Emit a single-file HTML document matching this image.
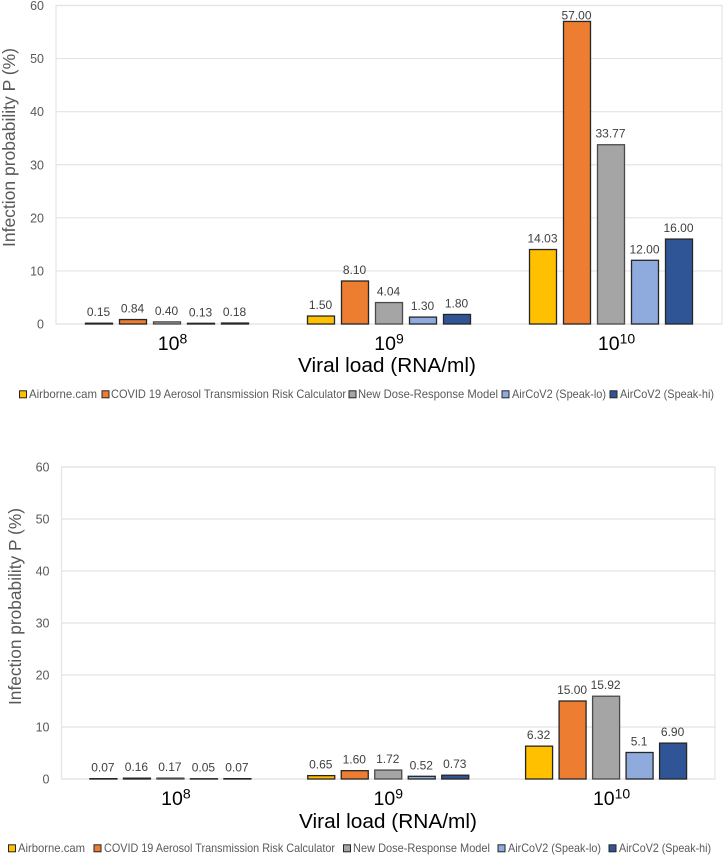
<!DOCTYPE html>
<html>
<head>
<meta charset="utf-8">
<title>Infection probability charts</title>
<style>
html,body{margin:0;padding:0;background:#fff;}
svg{display:block;font-family:"Liberation Sans",sans-serif;}
</style>
</head>
<body>
<svg id="figure" width="724" height="856" viewBox="0 0 724 856" xmlns="http://www.w3.org/2000/svg">
  <g id="panel-top"></g>
  <g id="panel-bottom"></g>

  <g font-size="12" fill="#595959">
    <rect x="19.5" y="390.8" width="7" height="7" fill="#FFC000" stroke="#262626"/>
    <text x="29" y="398" textLength="68" lengthAdjust="spacingAndGlyphs">Airborne.cam</text>
    <rect x="102" y="390.8" width="7" height="7" fill="#ED7D31" stroke="#262626"/>
    <text x="111" y="398" textLength="235" lengthAdjust="spacingAndGlyphs">COVID 19 Aerosol Transmission Risk Calculator</text>
    <rect x="349" y="390.8" width="7" height="7" fill="#A5A5A5" stroke="#262626"/>
    <text x="358" y="398" textLength="140" lengthAdjust="spacingAndGlyphs">New Dose-Response Model</text>
    <rect x="502" y="390.8" width="7" height="7" fill="#8FAADC" stroke="#262626"/>
    <text x="512" y="398" textLength="94" lengthAdjust="spacingAndGlyphs">AirCoV2 (Speak-lo)</text>
    <rect x="610" y="390.8" width="7" height="7" fill="#2F5597" stroke="#262626"/>
    <text x="620" y="398" textLength="94" lengthAdjust="spacingAndGlyphs">AirCoV2 (Speak-hi)</text>
  </g>

  <g font-size="12" fill="#595959">
    <rect x="8.5" y="844.8" width="7" height="7" fill="#FFC000" stroke="#262626"/>
    <text x="18" y="852" textLength="67" lengthAdjust="spacingAndGlyphs">Airborne.cam</text>
    <rect x="94" y="844.8" width="7" height="7" fill="#ED7D31" stroke="#262626"/>
    <text x="104" y="852" textLength="231" lengthAdjust="spacingAndGlyphs">COVID 19 Aerosol Transmission Risk Calculator</text>
    <rect x="343.5" y="844.8" width="7" height="7" fill="#A5A5A5" stroke="#262626"/>
    <text x="353" y="852" textLength="137" lengthAdjust="spacingAndGlyphs">New Dose-Response Model</text>
    <rect x="498" y="844.8" width="7" height="7" fill="#8FAADC" stroke="#262626"/>
    <text x="508" y="852" textLength="93" lengthAdjust="spacingAndGlyphs">AirCoV2 (Speak-lo)</text>
    <rect x="609" y="844.8" width="7" height="7" fill="#2F5597" stroke="#262626"/>
    <text x="619" y="852" textLength="92" lengthAdjust="spacingAndGlyphs">AirCoV2 (Speak-hi)</text>
  </g>
</svg>

<script>
const categoryExponents = ['8', '9', '10'];
const yTicks = [0, 10, 20, 30, 40, 50, 60];
const seriesNames = ['airborne', 'covid-calculator', 'dose-response', 'speak-lo', 'speak-hi'];
const seriesColors = ['#FFC000', '#ED7D31', '#A5A5A5', '#8FAADC', '#2F5597'];

const topAirborne = [0.15, 1.50, 14.03];
const topCovid = [0.84, 8.10, 57.00];
const topDose = [0.40, 4.04, 33.77];
const topLo = [0.13, 1.30, 12.00];
const topHi = [0.18, 1.80, 16.00];
const topLabels = [
  ['0.15', '1.50', '14.03'],
  ['0.84', '8.10', '57.00'],
  ['0.40', '4.04', '33.77'],
  ['0.13', '1.30', '12.00'],
  ['0.18', '1.80', '16.00']
];

const bottomAirborne = [0.07, 0.65, 6.32];
const bottomCovid = [0.16, 1.60, 15.00];
const bottomDose = [0.17, 1.72, 15.92];
const bottomLo = [0.05, 0.52, 5.1];
const bottomHi = [0.07, 0.73, 6.90];
const bottomLabels = [
  ['0.07', '0.65', '6.32'],
  ['0.16', '1.60', '15.00'],
  ['0.17', '1.72', '15.92'],
  ['0.05', '0.52', '5.1'],
  ['0.07', '0.73', '6.90']
];

const NS = 'http://www.w3.org/2000/svg';
function make(parent, tag, attrs, text) {
  const el = document.createElementNS(NS, tag);
  for (const k in attrs) el.setAttribute(k, attrs[k]);
  if (text !== undefined) el.textContent = text;
  parent.appendChild(el);
  return el;
}

function drawPanel(root, series, labels, cfg) {
  const yScale = v => cfg.y0 - (v / 60) * (cfg.y0 - cfg.y60);
  const groupWidth = (cfg.right - cfg.left) / categoryExponents.length;
  const groupCenter = i => cfg.left + groupWidth * (i + 0.5);
  const barCenter = (g, s) => groupCenter(g) + (s - 2) * cfg.pitch;

  yTicks.forEach(t => {
    const line = make(root, 'line', {x1: cfg.left, x2: cfg.right, y1: yScale(t), y2: yScale(t), stroke: '#E4E4E4', 'stroke-width': 1.2});
    
    
    const label = make(root, 'text', {x: cfg.left - 12, y: yScale(t) + 4.5, 'text-anchor': 'end', 'font-size': 12.5, fill: '#595959'}, String(t));
    
    
  });

  const frame = make(root, 'rect', {x: cfg.left, y: yScale(60), width: cfg.right - cfg.left, height: cfg.y0 - yScale(60), fill: 'none', stroke: '#E4E4E4', 'stroke-width': 1.2});
  
  

  series.forEach((values, s) => {
    values.forEach((v, g) => {
      const top = yScale(v);
      const bar = make(root, 'rect', {
        x: barCenter(g, s) - cfg.barWidth / 2,
        y: top,
        width: cfg.barWidth,
        height: Math.max(cfg.y0 - top, 0.1),
        fill: seriesColors[s],
        stroke: s === 2 ? '#4A4A4A' : '#262626',
        'stroke-width': 1.3
      });
      
      
      const valueLabel = make(root, 'text', {
        x: barCenter(g, s) - 0.5,
        y: Math.max(top - 7, cfg.labelMinY),
        'text-anchor': 'middle',
        'font-size': 12,
        fill: '#404040'
      }, labels[s][g]);
      
      
    });
  });

  categoryExponents.forEach((exp, g) => {
    const cat = make(root, 'text', {x: groupCenter(g) + cfg.catNudge[g], y: cfg.catBaseline, 'text-anchor': 'middle', 'font-size': 19.5, fill: '#000'});
    
    
    make(cat, 'tspan', {}, '10');
    make(cat, 'tspan', {dy: -6.5, 'font-size': 14}, exp);
  });

  const xTitle = make(root, 'text', {x: cfg.xTitleX, y: cfg.xTitleY, 'font-size': 20.5, fill: '#000', textLength: 178, lengthAdjust: 'spacingAndGlyphs'}, 'Viral load (RNA/ml)');
  
  

  const yTitle = make(root, 'text', {
    transform: 'translate(' + cfg.yTitleX + ',' + cfg.yTitleBottom + ') rotate(-90)',
    'font-size': 17.5,
    fill: '#595959',
    textLength: cfg.yTitleLen,
    lengthAdjust: 'spacingAndGlyphs'
  }, 'Infection probability P (%)');
  
  
}

drawPanel(
  document.getElementById('panel-top'),
  [topAirborne, topCovid, topDose, topLo, topHi],
  topLabels,
  {left: 56, right: 722, y0: 324, y60: 5.5, pitch: 34, barWidth: 27, labelMinY: 19.5,
   catNudge: [5.5, 0, 5.5], catBaseline: 350, xTitleX: 298, xTitleY: 372,
   yTitleX: 15, yTitleBottom: 247, yTitleLen: 199}
);

drawPanel(
  document.getElementById('panel-bottom'),
  [bottomAirborne, bottomCovid, bottomDose, bottomLo, bottomHi],
  bottomLabels,
  {left: 61.5, right: 715, y0: 779, y60: 467, pitch: 33.5, barWidth: 27, labelMinY: 0,
   catNudge: [5.5, 0, 5.5], catBaseline: 805, xTitleX: 299, xTitleY: 828,
   yTitleX: 21, yTitleBottom: 705, yTitleLen: 197}
);
</script>
</body>
</html>
